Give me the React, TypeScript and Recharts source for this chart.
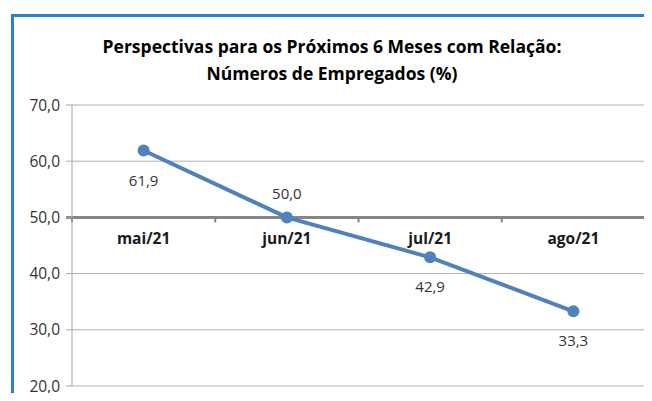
import React from 'react'
import { CartesianGrid, LabelList, Line, LineChart, ReferenceDot, ReferenceLine, XAxis, YAxis } from 'recharts'

const months = ['mai/21', 'jun/21', 'jul/21', 'ago/21']
const employees = [61.9, 50.0, 42.9, 33.3]
const yTicks = [20, 30, 40, 50, 60, 70]
// label above (true) or below (false) each point
const labelAbove = [false, true, false, false]

const chartData = months.map((month, i) => ({ month, value: employees[i] }))

const fmt = (v: number) => v.toFixed(1).replace('.', ',')
const font = '"Open Sans", "Noto Sans", sans-serif'

const AxisAt50 = (props: any) => {
  const { x1, x2, y1 } = props
  const step = (x2 - x1) / months.length
  const ticks = Array.from({ length: months.length + 1 }, (_, i) => x1 + i * step)
  return (
    <g>
      <line x1={x1 - 6} x2={x2} y1={y1} y2={y1} stroke="#868686" strokeWidth={3} />
      {ticks.map((tx) => (
        <line key={tx} x1={tx} x2={tx} y1={y1} y2={y1 + 5} stroke="#868686" strokeWidth={2} />
      ))}
    </g>
  )
}

const PointLabel = (props: any) => {
  const { x, y, value, index } = props
  const above = labelAbove[index]
  return (
    <text x={x} y={above ? y - 18 : y + 35} textAnchor="middle" fontSize={15} fill="#333333" fontFamily={font}>
      {fmt(value)}
    </text>
  )
}

export default function App() {
  return (
    <div style={{ position: 'relative', width: 652, height: 401, margin: -8, background: '#ffffff', overflow: 'hidden' }}>
      <div style={{ position: 'absolute', left: 11, top: 14, width: 660, height: 400, borderLeft: '3px solid #2b7fd3', borderTop: '3px solid #2b7fd3' }} />
      <div style={{ position: 'absolute', left: 0, top: 33, width: 664, textAlign: 'center', fontFamily: font, fontWeight: 700, fontSize: 17.5, lineHeight: '27px', color: '#000' }}>
        Perspectivas para os Próximos 6 Meses com Relação:<br />Números de Empregados (%)
      </div>
      <div style={{ position: 'absolute', left: 0, top: 0 }}>
        <LineChart width={652} height={401} data={chartData} margin={{ top: 105, right: 7, bottom: 15, left: 12 }}>
          <CartesianGrid vertical={false} stroke="#b0b0b0" />
          <XAxis dataKey="month" scale="band" hide />
          <YAxis
            domain={[20, 70]}
            ticks={yTicks}
            width={60}
            tickFormatter={fmt}
            tickSize={6}
            tickMargin={6}
            axisLine={{ stroke: '#a6a6a6' }}
            tickLine={{ stroke: '#a6a6a6' }}
            tick={{ fontSize: 15.5, fill: '#333333', fontFamily: font }}
          />
          <ReferenceLine y={50} shape={AxisAt50} />
          {months.map((m) => (
            <ReferenceDot
              key={m}
              x={m}
              y={50}
              r={0}
              stroke="none"
              label={{ value: m, position: 'bottom', offset: 16, fontSize: 15.5, fontWeight: 700, fill: '#1a1a1a', fontFamily: font }}
            />
          ))}
          <Line
            type="linear"
            dataKey="value"
            stroke="#4f81bd"
            strokeWidth={4}
            dot={{ r: 6, fill: '#4f81bd', stroke: '#4f81bd', strokeWidth: 0 }}
            isAnimationActive={false}
          >
            <LabelList dataKey="value" content={PointLabel} />
          </Line>
        </LineChart>
      </div>
    </div>
  )
}
